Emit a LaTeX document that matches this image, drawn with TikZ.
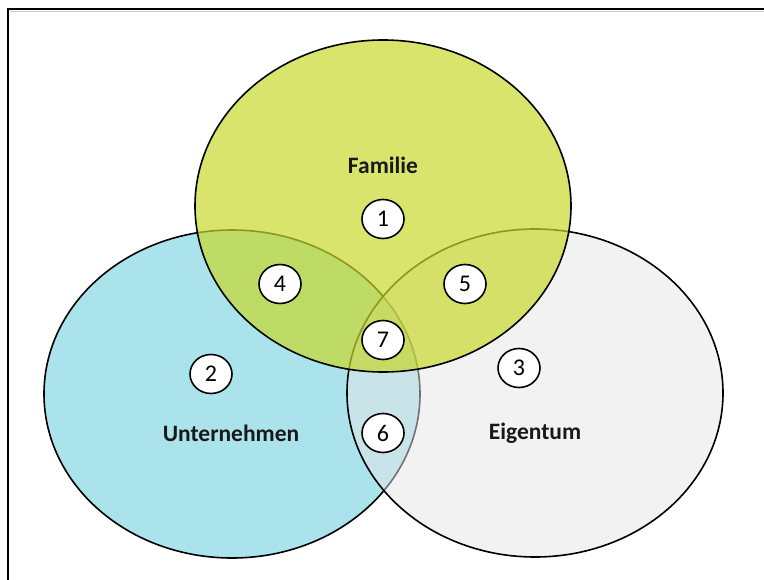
\documentclass[tikz,border=0pt]{standalone}
\usepackage{fontspec}
\setmainfont{Carlito}
\usetikzlibrary{shapes.geometric}
\definecolor{famc}{RGB}{199,216,45}
\definecolor{untc}{RGB}{171,227,236}
\definecolor{eigc}{RGB}{229,229,229}
\tikzset{
  set/.style={draw=black, line width=1.6pt},
  numbox/.style={ellipse, draw=black, line width=1.6pt, fill=white, minimum width=42pt, minimum height=39pt, inner sep=0pt, font=\fontsize{24}{26}\selectfont},
  lbl/.style={font=\bfseries\fontsize{23.5}{26}\selectfont, text=black!90},
}
\begin{document}
\begin{tikzpicture}[x=1pt,y=-1pt]
\useasboundingbox (0,0) rectangle (764,580);
% frame
\coordinate (fbl) at (8,580);
\coordinate (ftl) at (8,9);
\coordinate (ftr) at (764,9);
\draw[gray!40, line width=1pt] (9.5,11.5) -- (764,11.5);
\draw[line width=2.2pt] (fbl) -- (ftl) -- (ftr);
% sets
\fill[untc] (232,394) ellipse [x radius=188, y radius=164];
\draw[set] (232,394) ellipse [x radius=188, y radius=164];
\fill[eigc, fill opacity=0.5] (535,393) ellipse [x radius=188, y radius=164];
\draw[set] (535,393) ellipse [x radius=188, y radius=164];
\fill[famc, fill opacity=0.7] (383,206) ellipse [x radius=188, y radius=166];
\draw[set] (383,206) ellipse [x radius=188, y radius=166];
% labels
\node[lbl] (lfam) at (383,165) {Familie};
\node[lbl] (lunt) at (231,433) {Unternehmen};
\node[lbl] (leig) at (535,433) {Eigentum};
% numbers
\node[numbox] (n1) at (383,219) {1};
\node[numbox] (n2) at (211,374) {2};
\node[numbox] (n3) at (519,368) {3};
\node[numbox] (n4) at (280,284) {4};
\node[numbox] (n5) at (465,284) {5};
\node[numbox] (n6) at (383,433) {6};
\node[numbox] (n7) at (383,340) {7};
\end{tikzpicture}
\end{document}
